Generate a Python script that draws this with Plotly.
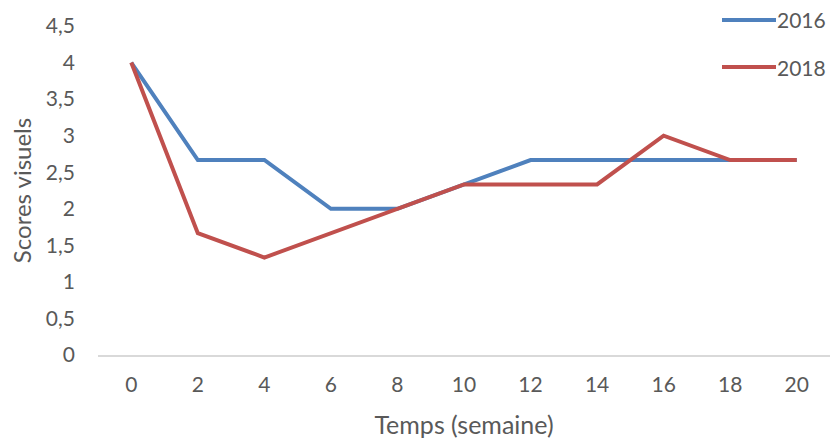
import plotly.graph_objects as go

weeks = ["0", "2", "4", "6", "8", "10", "12", "14", "16", "18", "20"]
s2016 = [4, 2.667, 2.667, 2, 2, 2.333, 2.667, 2.667, 2.667, 2.667, 2.667]
s2018 = [4, 1.667, 1.333, 1.667, 2, 2.333, 2.333, 2.333, 3, 2.667, 2.667]
ytickvals = [0, 0.5, 1, 1.5, 2, 2.5, 3, 3.5, 4, 4.5]
yticktext = ["0", "0,5", "1", "1,5", "2", "2,5", "3", "3,5", "4", "4,5"]

BLUE = "#4F81BD"
RED = "#C0504D"
TXT = "#595959"
FONT = "Lato"

W, H = 831, 443
L, R, T, B = 98, 1, 26, 88

fig = go.Figure()
fig.add_trace(go.Scatter(x=weeks, y=s2016, mode="lines", name="2016",
                         line=dict(color=BLUE, width=4), showlegend=False))
fig.add_trace(go.Scatter(x=weeks, y=s2018, mode="lines", name="2018",
                         line=dict(color=RED, width=4), showlegend=False))

# legend drawn manually (long line samples like the original)
pw = W - L - R
ph = H - T - B
def px_x(sx):
    return (sx - L) / pw
def px_y(sy):
    return 1 - (sy - T) / ph

for sy, col, name in [(20, BLUE, "2016"), (67, RED, "2018")]:
    fig.add_shape(type="line", xref="paper", yref="paper",
                  x0=px_x(722), x1=px_x(776), y0=px_y(sy), y1=px_y(sy),
                  line=dict(color=col, width=4), layer="above")
    fig.add_annotation(xref="paper", yref="paper", x=px_x(775), y=px_y(sy),
                       text=name, showarrow=False, xanchor="left",
                       yanchor="middle", font=dict(size=21, color=TXT, family=FONT))

fig.update_layout(
    width=W, height=H,
    margin=dict(l=L, r=R, t=T, b=B),
    paper_bgcolor="white", plot_bgcolor="white",
    font=dict(family=FONT, size=21, color=TXT),
)
fig.update_xaxes(type="category", range=[-0.5, 10.5], showgrid=False,
                 showline=True, linecolor="#D9D9D9", linewidth=1.5,
                 ticks="", ticklabelstandoff=10, zeroline=False,
                 tickfont=dict(size=21, color=TXT, family=FONT),
                 title=dict(text="Temps (semaine)", standoff=22,
                            font=dict(size=25, color=TXT, family=FONT)),
                 automargin=False)
fig.update_yaxes(range=[0, 4.5], tickvals=ytickvals, ticktext=yticktext,
                 showgrid=False, showline=False, zeroline=False, ticks="",
                 ticklabelstandoff=22,
                 tickfont=dict(size=21, color=TXT, family=FONT),
                 title=dict(text="Scores visuels", standoff=7,
                            font=dict(size=24, color=TXT, family=FONT)),
                 automargin=False)

fig.write_html("out.html", config={"displayModeBar": False},
               post_script="document.body.style.margin='0';document.body.style.overflow='hidden';")
